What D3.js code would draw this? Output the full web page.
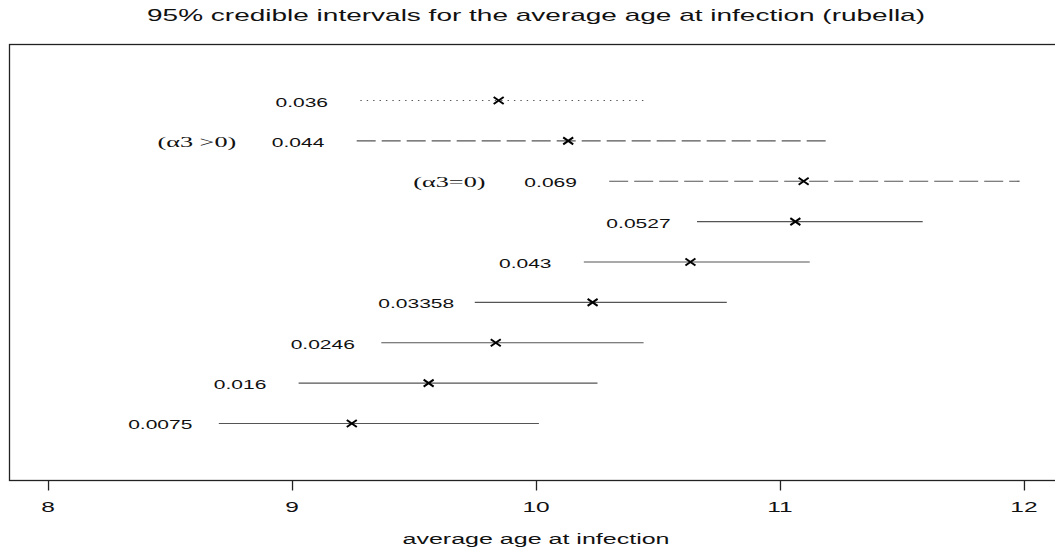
<!DOCTYPE html>
<html>
<head>
<meta charset="utf-8">
<script src="https://cdn.jsdelivr.net/npm/d3@7"></script>
<style>
  body { margin: 0; background: #fff; }
  text { font-family: "Liberation Sans", Arial, sans-serif; fill: #111; }
</style>
</head>
<body>
<svg width="1055" height="552"></svg>
<script>
var svg = d3.select('svg');

// interval data, top row first
var labels = ["0.036", "0.044", "0.069", "0.0527", "0.043", "0.03358", "0.0246", "0.016", "0.0075"];
var lower  = [9.28, 9.265, 10.30, 10.66, 10.196, 9.749, 9.366, 9.027, 8.70];
var centre = [9.847, 10.132, 11.097, 11.063, 10.633, 10.232, 9.835, 9.560, 9.245];
var upper  = [10.454, 11.212, 11.982, 11.585, 11.122, 10.782, 10.441, 10.252, 10.012];
var prior  = ["dot", "a3pos", "a3zero", "", "", "", "", "", ""];
var notes  = { a3pos: "(\u03b13 >0)", a3zero: "(\u03b13=0)" };
var xticks = [8, 9, 10, 11, 12];

var title = "95% credible intervals for the average age at infection (rubella)";
var xlab = "average age at infection";

// the picture is stretched sideways, so text is too
var SX = 1.75;

var x = d3.scaleLinear().domain([7.84, 12.16]).range([9, 1063]);
var y = d3.scaleLinear().domain([-0.4, 10.4]).range([480, 44]);

function row(i) { return y(labels.length - i) }

function dash(p) {
  if (p == "dot") return "1.4 5";
  if (p == "a3pos" || p == "a3zero") return "19 6";
  return null;
}

function stext(str, tx, ty, size, fam) {
  return svg.append("text")
    .attr("transform", "translate(" + tx + "," + ty + ") scale(" + SX + ",1)")
    .attr("text-anchor", "middle")
    .style("font-size", size + "px")
    .style("font-family", fam || null)
    .text(str);
}

// box
svg.append("rect")
  .attr("x", x.range()[0] + 0.5).attr("y", y.range()[1] + 0.5)
  .attr("width", x.range()[1] - x.range()[0]).attr("height", y.range()[0] - y.range()[1])
  .attr("fill", "none").attr("stroke", "#222").attr("stroke-width", 1.3);

// x axis
var ax = svg.append("g").attr("transform", "translate(0," + (y.range()[0] + 0.5) + ")")
  .call(d3.axisBottom(x).tickValues(xticks).tickSize(10).tickFormat(""));
ax.select(".domain").remove();
ax.selectAll(".tick line").attr("stroke", "#222").attr("stroke-width", 1.3);
xticks.forEach(function(t) { stext(String(t), x(t), 512, 14) });

stext(title, x(10), 21, 16);
stext(xlab, x(10), 544, 14.3);

// intervals
var g = svg.selectAll("g.iv").data(labels).enter().append("g").attr("class", "iv");
g.append("line")
  .attr("x1", function(d, i) { return x(lower[i]) })
  .attr("x2", function(d, i) { return x(upper[i]) })
  .attr("y1", function(d, i) { return row(i) })
  .attr("y2", function(d, i) { return row(i) })
  .attr("stroke", "#555")
  .attr("stroke-width", 1.2)
  .attr("stroke-dasharray", function(d, i) { return dash(prior[i]) });

// crosses at the point estimate
g.append("path")
  .attr("d", function(d, i) {
    var cx = x(centre[i]), cy = row(i);
    return "M" + (cx - 5) + "," + (cy - 3.5) + "L" + (cx + 5) + "," + (cy + 3.5) +
           "M" + (cx - 5) + "," + (cy + 3.5) + "L" + (cx + 5) + "," + (cy - 3.5);
  })
  .attr("stroke", "#000").attr("stroke-width", 2).attr("fill", "none");

// value labels left of each interval
labels.forEach(function(l, i) {
  stext(l, x(lower[i] - 0.24), row(i) + 6, 12);
  if (notes[prior[i]]) stext(notes[prior[i]], x(lower[i] - 0.655), row(i) + 6, 15, "'Liberation Serif', 'Times New Roman', serif");
});
</script>
</body>
</html>
